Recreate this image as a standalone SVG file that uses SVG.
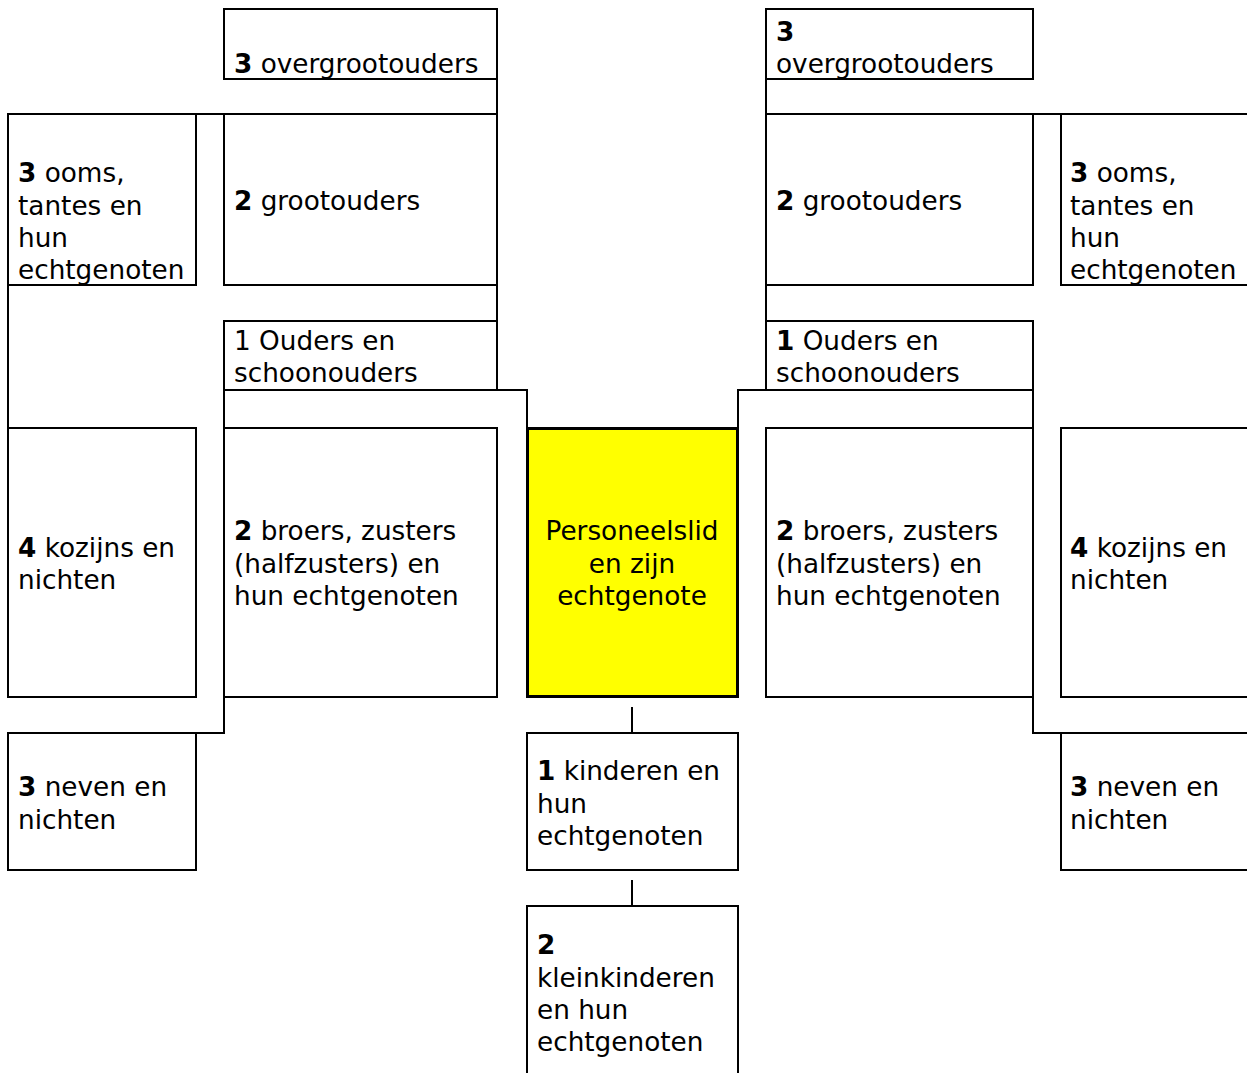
<svg xmlns="http://www.w3.org/2000/svg" width="1247" height="1073" viewBox="0 0 1247 1073">
<style>
.box{fill:#fff;stroke:#000;stroke-width:2}
.main{fill:#ffff00;stroke:#000;stroke-width:3}
.con{fill:none;stroke:#000;stroke-width:2}
text{font-family:"DejaVu Sans",Verdana,sans-serif;font-size:26.3px;fill:#000}
.b{font-weight:bold}
</style>
<rect width="1247" height="1073" fill="#fff"/>
<g id="connectors">
<path class="con" d="M497,79 V114 H8"/>
<path class="con" d="M8,285 V428"/>
<path class="con" d="M497,285 V321"/>
<path class="con" d="M224,428 V390 H527 V428"/>
<path class="con" d="M224,697 V733 H8"/>
<path class="con" d="M766,79 V114 H1248"/>
<path class="con" d="M766,285 V321"/>
<path class="con" d="M1033,428 V390 H738 V428"/>
<path class="con" d="M1033,697 V733 H1248"/>
<path class="con" d="M632,707 V732"/>
<path class="con" d="M632,880 V905"/>
</g>
<g id="n-overgroot-l"><rect class="box" x="224" y="9" width="273" height="70"/><text x="234" y="73"><tspan class="b">3</tspan> overgrootouders</text></g>
<g id="n-ooms-l"><rect class="box" x="8" y="114" width="188" height="171"/><text x="18" y="182"><tspan class="b">3</tspan> ooms,</text><text x="18" y="214.5">tantes en</text><text x="18" y="247">hun</text><text x="18" y="279">echtgenoten</text></g>
<g id="n-groot-l"><rect class="box" x="224" y="114" width="273" height="171"/><text x="234" y="210"><tspan class="b">2</tspan> grootouders</text></g>
<g id="n-ouders-l"><rect class="box" x="224" y="321" width="273" height="69"/><text x="234" y="350">1 Ouders en</text><text x="234" y="382">schoonouders</text></g>
<g id="n-kozijns-l"><rect class="box" x="8" y="428" width="188" height="269"/><text x="18" y="557"><tspan class="b">4</tspan> kozijns en</text><text x="18" y="589">nichten</text></g>
<g id="n-broers-l"><rect class="box" x="224" y="428" width="273" height="269"/><text x="234" y="540"><tspan class="b">2</tspan> broers, zusters</text><text x="234" y="572.5">(halfzusters) en</text><text x="234" y="605">hun echtgenoten</text></g>
<g id="n-neven-l"><rect class="box" x="8" y="733" width="188" height="137"/><text x="18" y="796"><tspan class="b">3</tspan> neven en</text><text x="18" y="828.5">nichten</text></g>
<g id="n-personeelslid"><rect class="main" x="527.5" y="428.5" width="210" height="268"/><text x="632" y="540" text-anchor="middle">Personeelslid</text><text x="632" y="572.5" text-anchor="middle">en zijn</text><text x="632" y="605" text-anchor="middle">echtgenote</text></g>
<g id="n-kinderen"><rect class="box" x="527" y="733" width="211" height="137"/><text x="537" y="780"><tspan class="b">1</tspan> kinderen en</text><text x="537" y="812.5">hun</text><text x="537" y="845">echtgenoten</text></g>
<g id="n-kleinkinderen"><rect class="box" x="527" y="906" width="211" height="180"/><text x="537" y="954" class="b">2</text><text x="537" y="986.5">kleinkinderen</text><text x="537" y="1019">en hun</text><text x="537" y="1051">echtgenoten</text></g>
<g id="n-overgroot-r"><rect class="box" x="766" y="9" width="267" height="70"/><text x="776" y="40.5" class="b">3</text><text x="776" y="73">overgrootouders</text></g>
<g id="n-groot-r"><rect class="box" x="766" y="114" width="267" height="171"/><text x="776" y="210"><tspan class="b">2</tspan> grootouders</text></g>
<g id="n-ooms-r"><rect class="box" x="1061" y="114" width="200" height="171"/><text x="1070" y="182"><tspan class="b">3</tspan> ooms,</text><text x="1070" y="214.5">tantes en</text><text x="1070" y="247">hun</text><text x="1070" y="279">echtgenoten</text></g>
<g id="n-ouders-r"><rect class="box" x="766" y="321" width="267" height="69"/><text x="776" y="350"><tspan class="b">1</tspan> Ouders en</text><text x="776" y="382">schoonouders</text></g>
<g id="n-broers-r"><rect class="box" x="766" y="428" width="267" height="269"/><text x="776" y="540"><tspan class="b">2</tspan> broers, zusters</text><text x="776" y="572.5">(halfzusters) en</text><text x="776" y="605">hun echtgenoten</text></g>
<g id="n-kozijns-r"><rect class="box" x="1061" y="428" width="200" height="269"/><text x="1070" y="557"><tspan class="b">4</tspan> kozijns en</text><text x="1070" y="589">nichten</text></g>
<g id="n-neven-r"><rect class="box" x="1061" y="733" width="200" height="137"/><text x="1070" y="796"><tspan class="b">3</tspan> neven en</text><text x="1070" y="828.5">nichten</text></g>
</svg>
